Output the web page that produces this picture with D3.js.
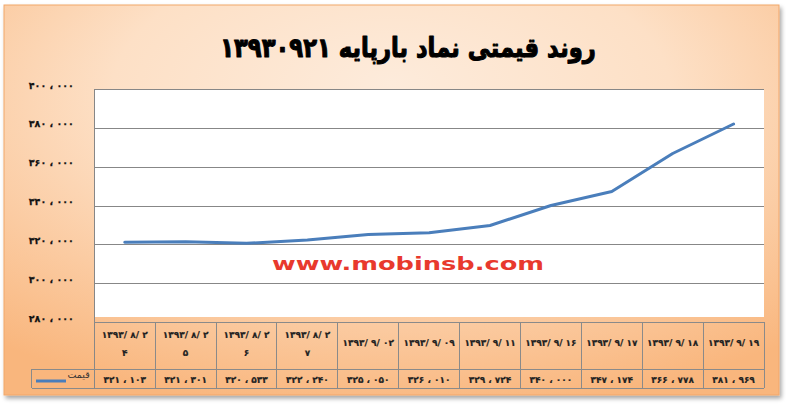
<!DOCTYPE html>
<html><head><meta charset="utf-8">
<script src="https://cdn.jsdelivr.net/npm/d3@7"></script>
<style>body{margin:0;background:#fff}svg{display:block}</style>
</head><body>
<script>
// ---- data ----
const chartTitle = "روند قیمتی نماد بارپایه ۱۳۹۳۰۹۲۱";
const categories = ["۱۳۹۳/۸/۲۴","۱۳۹۳/۸/۲۵","۱۳۹۳/۸/۲۶","۱۳۹۳/۸/۲۷","۱۳۹۳/۹/۰۲","۱۳۹۳/۹/۰۹","۱۳۹۳/۹/۱۱","۱۳۹۳/۹/۱۶","۱۳۹۳/۹/۱۷","۱۳۹۳/۹/۱۸","۱۳۹۳/۹/۱۹"];
const tickLabels = ["۱۳۹۳/۸/۲\n۴","۱۳۹۳/۸/۲\n۵","۱۳۹۳/۸/۲\n۶","۱۳۹۳/۸/۲\n۷","۱۳۹۳/۹/۰۲","۱۳۹۳/۹/۰۹","۱۳۹۳/۹/۱۱","۱۳۹۳/۹/۱۶","۱۳۹۳/۹/۱۷","۱۳۹۳/۹/۱۸","۱۳۹۳/۹/۱۹"];
const seriesName = "قیمت";
const prices = [321103, 321301, 320533, 322240, 325050, 326010, 329724, 340000, 347174, 366778, 381969];
const yTicks = [280000, 300000, 320000, 340000, 360000, 380000, 400000];
const watermark = "www.mobinsb.com";

// ---- helpers ----
const faDigits = "۰۱۲۳۴۵۶۷۸۹";
const toFa = s => String(s).replace(/\d/g, d => faDigits[d]);
const LRO = "\u202D", PDF = "\u202C";
const fmtNum = v => LRO + toFa(d3.format(",")(v)).replace(/,/g, " ، ") + PDF;
const fmtDate = s => LRO + s.replace(/\//g, "/ ") + PDF;

const W = 786, H = 404;
const plotL = 94.3, plotR = 764, plotT = 89, axisY = 322, plotWhiteBottom = 317;
const headerBottom = 369, tableBottom = 388, legendLeft = 31.5;

const svg = d3.select("body").append("svg").attr("width", W).attr("height", H);
const defs = svg.append("defs");
const grad = defs.append("radialGradient").attr("id", "bg")
  .attr("cx", 0.5).attr("cy", 0.25).attr("r", 0.8).attr("fx", 0.5).attr("fy", 0.2);
grad.append("stop").attr("offset", 0).attr("stop-color", "#fdebdb");
grad.append("stop").attr("offset", 0.45).attr("stop-color", "#fde0c6");
grad.append("stop").attr("offset", 1).attr("stop-color", "#f9b67d");
const sh = defs.append("filter").attr("id", "sh").attr("x", "-5%").attr("y", "-5%").attr("width", "110%").attr("height", "115%");
sh.append("feDropShadow").attr("dx", 2).attr("dy", 3).attr("stdDeviation", 2).attr("flood-color", "#000").attr("flood-opacity", 0.35);

// frame
svg.append("rect").attr("x", 4).attr("y", 5).attr("width", 775).attr("height", 390)
  .attr("fill", "url(#bg)").attr("stroke", "#f2a76b").attr("stroke-width", 1).attr("filter", "url(#sh)");

// title
svg.append("text").attr("transform", "translate(408,57) scale(0.84,1)").attr("text-anchor", "middle")
  .attr("direction", "rtl")
  .style("font-family", "DejaVu Sans").style("font-weight", "bold").style("font-size", "27px")
  .attr("fill", "#000").attr("stroke", "#000").attr("stroke-width", 1.1).attr("stroke-linejoin", "round")
  .text(chartTitle);

// scales
const x = d3.scaleBand().domain(categories).range([plotL, plotR]).padding(0);
const y = d3.scaleLinear().domain([yTicks[0], yTicks[yTicks.length - 1]]).range([axisY, plotT]);

// plot area
svg.append("rect").attr("x", plotL).attr("y", plotT).attr("width", plotR - plotL).attr("height", plotWhiteBottom - plotT).attr("fill", "#fff");

// gridlines
const grid = svg.append("g").attr("transform", `translate(${plotL},0)`)
  .call(d3.axisLeft(y).tickValues(yTicks.slice(1)).tickSize(-(plotR - plotL)).tickFormat(""));
grid.select(".domain").remove();
grid.selectAll("line").attr("stroke", "#878787").attr("stroke-width", 1).attr("shape-rendering", "crispEdges");

// y labels
const ya = svg.append("g").attr("transform", `translate(${plotL},0)`)
  .call(d3.axisLeft(y).tickValues(yTicks).tickSize(0).tickPadding(20.5).tickFormat(fmtNum));
ya.select(".domain").remove();
ya.selectAll("text").attr("y", -4).attr("fill", "#111").attr("stroke", "#111").attr("stroke-width", 0.25)
  .style("font-family", "DejaVu Sans").style("font-weight", "bold").style("font-size", "9.5px");

// left axis line
svg.append("line").attr("x1", plotL).attr("x2", plotL).attr("y1", plotT).attr("y2", tableBottom)
  .attr("stroke", "#878787").attr("shape-rendering", "crispEdges");

// watermark
svg.append("text").attr("x", 408).attr("y", 270).attr("text-anchor", "middle")
  .attr("textLength", 272).attr("lengthAdjust", "spacingAndGlyphs")
  .style("font-family", "DejaVu Sans").style("font-weight", "bold").style("font-size", "18px")
  .attr("fill", "#e8392d").text(watermark);

// line
const line = d3.line().x((d, i) => x(categories[i]) + x.bandwidth() / 2).y(d => y(d));
svg.append("path").datum(prices).attr("d", line).attr("fill", "none")
  .attr("stroke", "#4a7ebb").attr("stroke-width", 3).attr("stroke-linejoin", "round").attr("stroke-linecap", "round");

// data table
const tbl = svg.append("g").attr("shape-rendering", "crispEdges").attr("stroke", "#8a8a8a").attr("stroke-width", 1);
tbl.append("line").attr("x1", plotL).attr("x2", plotR).attr("y1", axisY).attr("y2", axisY);
tbl.append("line").attr("x1", legendLeft).attr("x2", plotR).attr("y1", headerBottom).attr("y2", headerBottom);
tbl.append("line").attr("x1", legendLeft).attr("x2", plotR).attr("y1", tableBottom).attr("y2", tableBottom);
tbl.append("line").attr("x1", legendLeft).attr("x2", legendLeft).attr("y1", headerBottom).attr("y2", tableBottom);
tbl.selectAll("line.col").data(categories).join("line").attr("class", "col")
  .attr("x1", d => x(d) + x.bandwidth()).attr("x2", d => x(d) + x.bandwidth())
  .attr("y1", axisY).attr("y2", tableBottom);

// header labels
const hdr = svg.append("g").style("font-family", "DejaVu Sans").style("font-weight", "bold").style("font-size", "9px")
  .attr("fill", "#222").attr("stroke", "#222").attr("stroke-width", 0.2);
categories.forEach((c, i) => {
  const lines = tickLabels[i].split("\n");
  const cx = x(c) + x.bandwidth() / 2;
  const t = hdr.append("text").attr("text-anchor", "middle");
  if (lines.length === 1) {
    t.append("tspan").attr("x", cx).attr("y", 346).text(fmtDate(lines[0]));
  } else {
    lines.forEach((ln, k) => t.append("tspan").attr("x", cx).attr("y", 337.5 + k * 18.5).text(fmtDate(ln)));
  }
});
// value labels
const vals = svg.append("g").style("font-family", "DejaVu Sans").style("font-weight", "bold").style("font-size", "9px")
  .attr("fill", "#222").attr("stroke", "#222").attr("stroke-width", 0.2);
vals.selectAll("text").data(prices).join("text")
  .attr("x", (d, i) => x(categories[i]) + x.bandwidth() / 2).attr("y", 382.5).attr("text-anchor", "middle")
  .text(d => fmtNum(d));

// legend key
svg.append("line").attr("x1", 36).attr("x2", 66).attr("y1", 381).attr("y2", 381)
  .attr("stroke", "#4a7ebb").attr("stroke-width", 3);
svg.append("text").attr("x", 67.5).attr("y", 378).attr("text-anchor", "start")
  .style("font-family", "DejaVu Sans").style("font-size", "9.5px").attr("fill", "#333").text(seriesName);
</script>
</body></html>
